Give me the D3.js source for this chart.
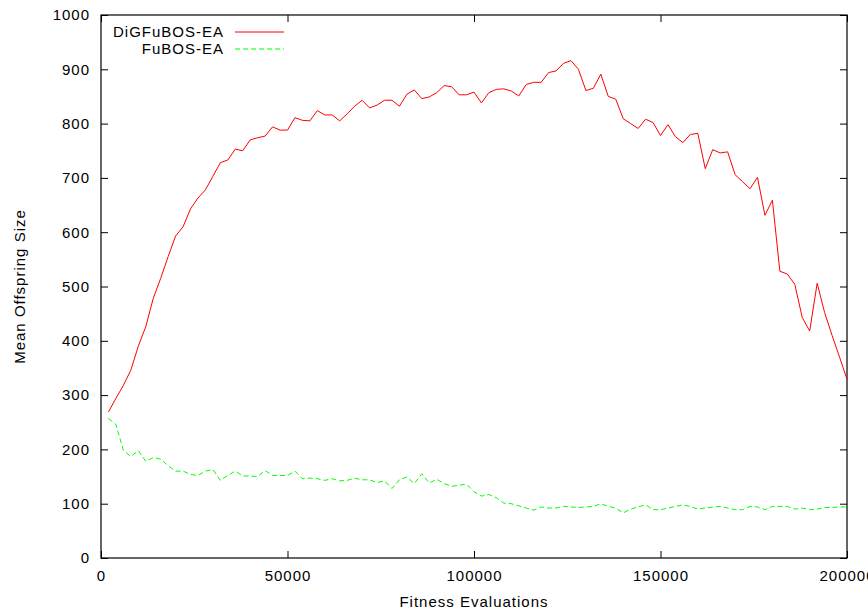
<!DOCTYPE html>
<html>
<head>
<meta charset="utf-8">
<script src="https://cdn.jsdelivr.net/npm/d3@7"></script>
<style>
  body { margin: 0; background: #fff; }
  text { font-family: "Liberation Sans", Arial, sans-serif; font-size: 15px; letter-spacing: 1px; fill: #000; }
</style>
</head>
<body>
<script>
var svgWidth = 868;
var svgHeight = 614;

var margin = {
  top: 15,
  right: 21,
  bottom: 56,
  left: 101
};

var width = svgWidth - margin.left - margin.right;
var height = svgHeight - margin.top - margin.bottom;

// evaluations: 2000, 4000 ... 200000
var evaluations = d3.range(1, 101).map(i => i * 2000);

var digfubosValues = [
  269, 294, 318, 346, 390, 426, 478, 515, 555, 593,
  610, 643, 663, 678, 703, 728, 733, 753, 750, 770,
  774, 777, 794, 788, 788, 811, 806, 805, 824, 816,
  816, 805, 818, 832, 843, 829, 834, 843, 843, 832,
  854, 862, 846, 849, 857, 870, 868, 853, 853, 858,
  838, 857, 863, 864, 860, 851, 872, 876, 876, 894,
  897, 911, 916, 900, 861, 865, 891, 850, 845, 809,
  800, 791, 808, 802, 778, 798, 776, 765, 780, 782,
  717, 752, 746, 748, 706, 693, 680, 701, 631, 659,
  528, 523, 504, 443, 418, 506, 452, 410, 370, 329
];

var fubosValues = [
  257, 246, 198, 187, 198, 178, 185, 182, 170, 160,
  160, 154, 152, 160, 163, 143, 152, 160, 151, 151,
  150, 161, 152, 152, 152, 160, 146, 147, 146, 143,
  146, 142, 143, 147, 144, 144, 139, 142, 128, 144,
  149, 137, 155, 138, 145, 137, 132, 134, 136, 122,
  114, 117, 111, 101, 100, 96, 92, 88, 94, 92,
  92, 95, 94, 93, 94, 95, 100, 95, 92, 83,
  90, 94, 98, 89, 89, 92, 95, 98, 95, 90,
  92, 94, 95, 92, 89, 89, 95, 94, 89, 95,
  95, 95, 90, 92, 89, 90, 93, 93, 94, 94
];

var xTicks = [0, 50000, 100000, 150000, 200000];
var yTicks = [0, 100, 200, 300, 400, 500, 600, 700, 800, 900, 1000];

var seriesNames = ["DiGFuBOS-EA", "FuBOS-EA"];
var seriesColors = ["#ff0000", "#00ff00"];

var svg = d3
  .select("body")
  .append("svg")
  .attr("width", svgWidth)
  .attr("height", svgHeight);

var chartGroup = svg.append("g")
  .attr("transform", `translate(${margin.left}, ${margin.top})`);

var xLinearScale = d3.scaleLinear()
  .domain([0, 200000])
  .range([0, width]);

var yLinearScale = d3.scaleLinear()
  .domain([0, 1000])
  .range([height, 0]);

// gnuplot style: ticks point inward, mirrored on top and right
var tickLen = 7;

var bottomAxis = d3.axisBottom(xLinearScale).tickValues(xTicks).tickSizeInner(-tickLen).tickSizeOuter(0).tickPadding(12).tickFormat(d3.format("d"));
var topAxis = d3.axisTop(xLinearScale).tickValues(xTicks).tickSizeInner(-tickLen).tickSizeOuter(0).tickFormat("");
var leftAxis = d3.axisLeft(yLinearScale).tickValues(yTicks).tickSizeInner(-tickLen).tickSizeOuter(0).tickPadding(11).tickFormat(d3.format("d"));
var rightAxis = d3.axisRight(yLinearScale).tickValues(yTicks).tickSizeInner(-tickLen).tickSizeOuter(0).tickFormat("");

chartGroup.append("g")
  .attr("transform", `translate(0, ${height})`)
  .call(bottomAxis);

chartGroup.append("g")
  .call(topAxis);

chartGroup.append("g")
  .call(leftAxis);

chartGroup.append("g")
  .attr("transform", `translate(${width}, 0)`)
  .call(rightAxis);

chartGroup.selectAll(".domain").remove();
chartGroup.selectAll(".tick line").attr("stroke", "#000").attr("stroke-width", 1);
chartGroup.selectAll(".tick text").attr("font-size", null).attr("font-family", null);

// border box
chartGroup.append("rect")
  .attr("x", 0)
  .attr("y", 0)
  .attr("width", width)
  .attr("height", height)
  .attr("fill", "none")
  .attr("stroke", "#000")
  .attr("stroke-width", 1.2);

var line = d3.line()
  .x((d, i) => xLinearScale(evaluations[i]))
  .y(d => yLinearScale(d));

chartGroup.append("path")
  .datum(digfubosValues)
  .attr("d", line)
  .attr("fill", "none")
  .attr("stroke", seriesColors[0])
  .attr("stroke-width", 1);

chartGroup.append("path")
  .datum(fubosValues)
  .attr("d", line)
  .attr("fill", "none")
  .attr("stroke", seriesColors[1])
  .attr("stroke-width", 1)
  .attr("stroke-dasharray", "5,3");

// legend
var legendGroup = chartGroup.append("g")
  .attr("transform", "translate(123, 17)");

seriesNames.forEach(function(name, i) {
  legendGroup.append("text")
    .attr("x", 0)
    .attr("y", i * 17)
    .attr("dy", "0.35em")
    .attr("text-anchor", "end")
    .text(name);
  legendGroup.append("line")
    .attr("x1", 11)
    .attr("x2", 60)
    .attr("y1", i * 17)
    .attr("y2", i * 17)
    .attr("stroke", seriesColors[i])
    .attr("stroke-width", 1)
    .attr("stroke-dasharray", i == 1 ? "5,3" : null);
});

// axis labels
chartGroup.append("text")
  .attr("x", width / 2)
  .attr("y", height + 49)
  .attr("text-anchor", "middle")
  .text("Fitness Evaluations");

chartGroup.append("text")
  .attr("transform", "rotate(-90)")
  .attr("x", 0 - height / 2)
  .attr("y", 0 - margin.left + 25)
  .attr("text-anchor", "middle")
  .text("Mean Offspring Size");
</script>
</body>
</html>
